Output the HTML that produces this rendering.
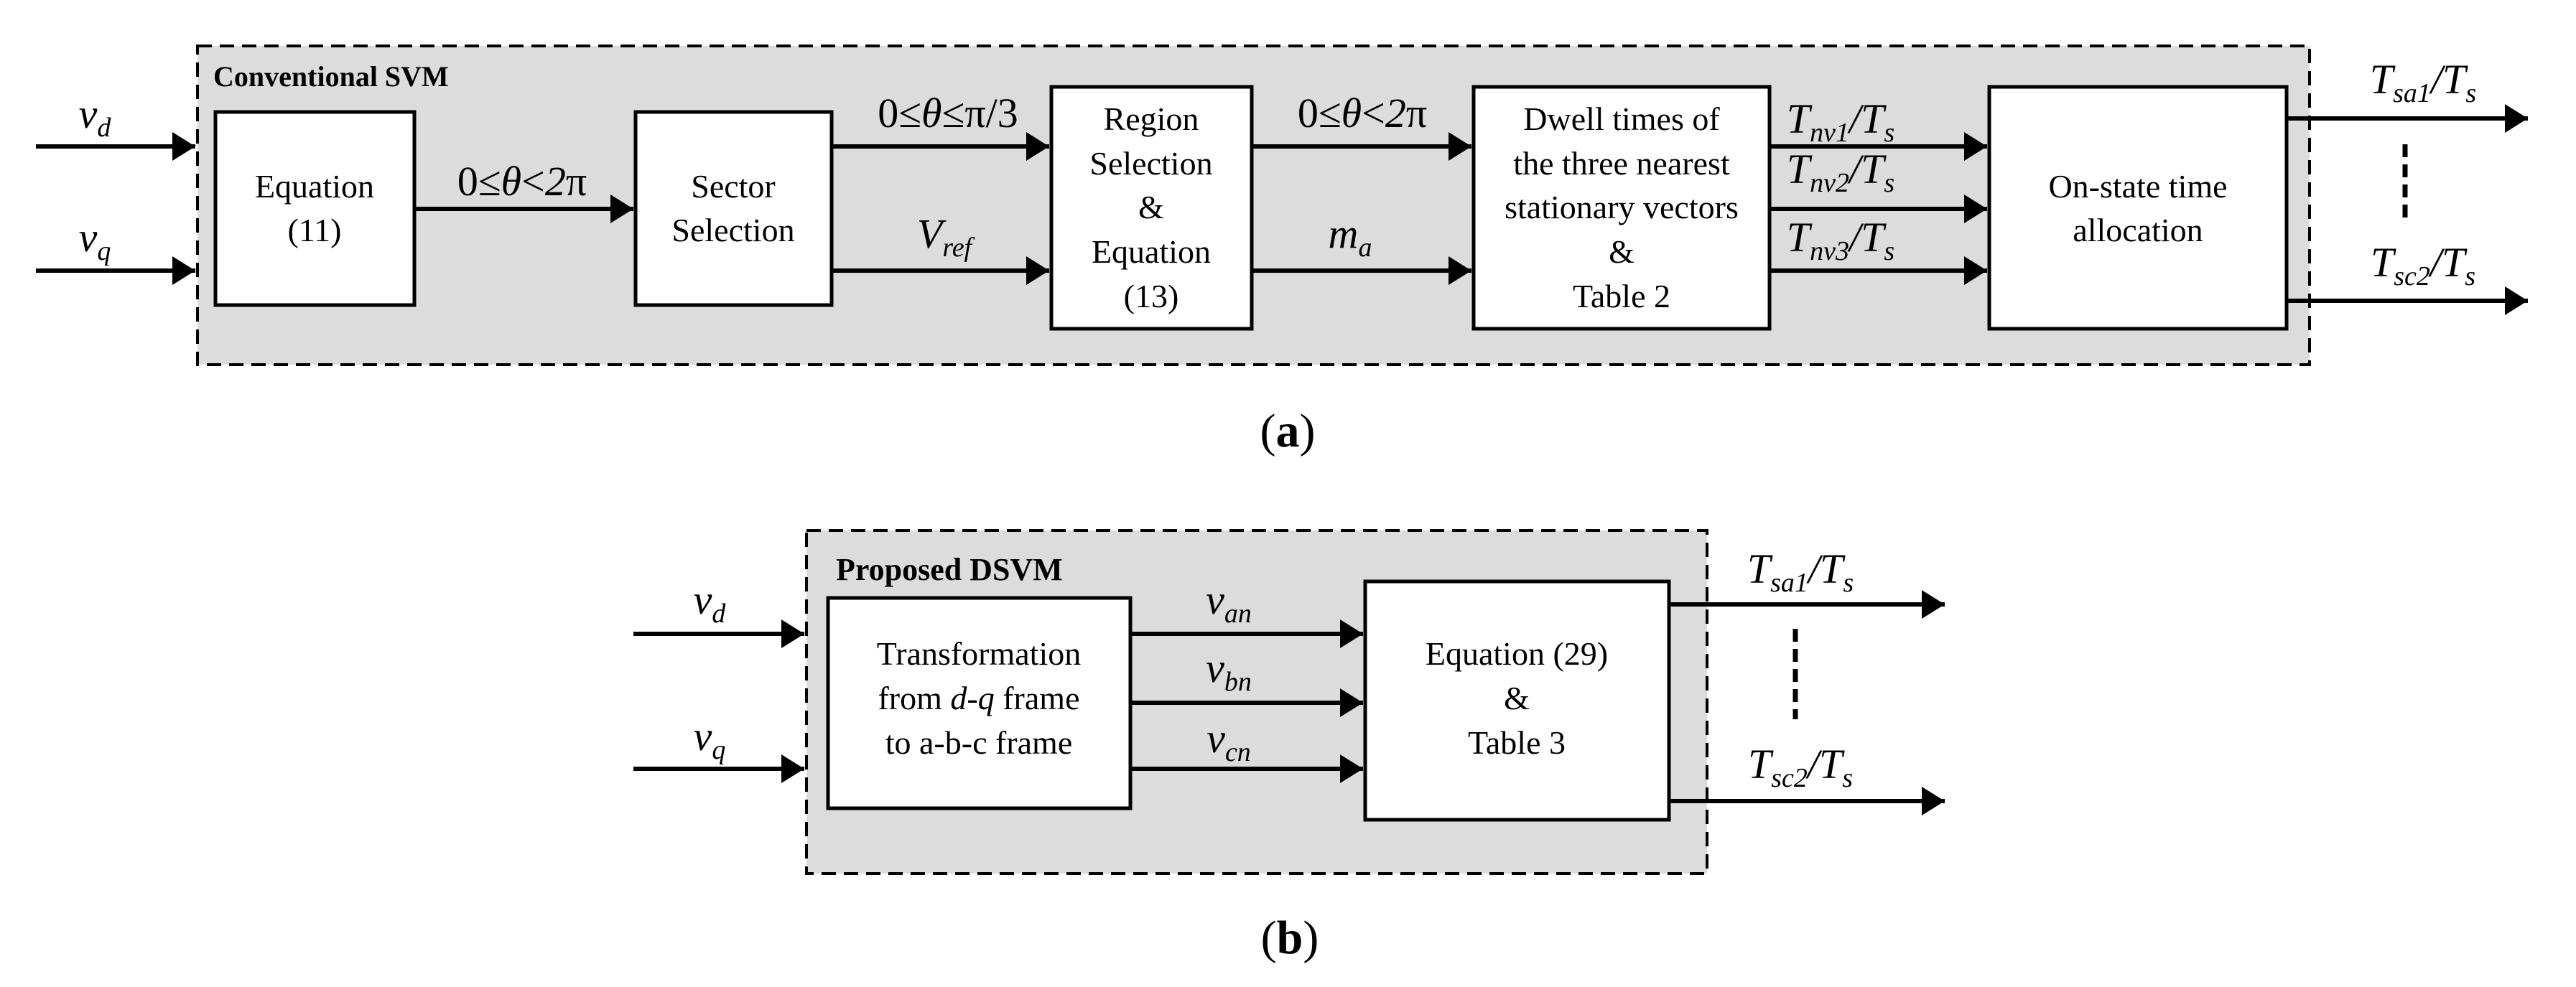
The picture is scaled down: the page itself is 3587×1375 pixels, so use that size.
<!DOCTYPE html>
<html><head><meta charset="utf-8"><style>
html,body{margin:0;padding:0;background:#fff;}
svg{display:block;font-family:"Liberation Serif","DejaVu Serif",serif;}
svg text{font-family:"Liberation Serif","DejaVu Serif",serif;fill:#000;}
.b{font-size:46px;text-anchor:middle;}
.m{font-size:58px;font-style:italic;text-anchor:middle;}
.s{font-size:38px;}
</style></head><body>
<svg width="3587" height="1375" viewBox="0 0 3587 1375" xmlns="http://www.w3.org/2000/svg" font-family="Liberation Serif, serif">
<defs>
<marker id="ah" markerWidth="34" markerHeight="40" refX="32" refY="20" markerUnits="userSpaceOnUse" orient="auto">
<path d="M0,0 L32,20 L0,40 Z" fill="#000"/></marker>
</defs>
<g stroke="#000" stroke-width="4" stroke-dasharray="20,11">
<rect x="275" y="64" width="2941" height="444" fill="#dcdcdc"/>
<rect x="1123" y="739" width="1254" height="478" fill="#dcdcdc"/>
</g>
<g stroke="#000" stroke-width="5" fill="#fff">
<rect x="300" y="156" width="277" height="269"/>
<rect x="885" y="156" width="273" height="269"/>
<rect x="1464" y="121" width="279" height="337"/>
<rect x="2052" y="121" width="412" height="337"/>
<rect x="2770" y="121" width="414" height="337"/>
<rect x="1153" y="833" width="421" height="293"/>
<rect x="1901" y="810" width="423" height="332"/>
</g>
<g stroke="#000" stroke-width="6" marker-end="url(#ah)">
<line x1="50" y1="204" x2="272" y2="204"/>
<line x1="50" y1="377" x2="272" y2="377"/>
<line x1="577" y1="291" x2="882" y2="291"/>
<line x1="1158" y1="204" x2="1461" y2="204"/>
<line x1="1158" y1="377" x2="1461" y2="377"/>
<line x1="1743" y1="204" x2="2049" y2="204"/>
<line x1="1743" y1="377" x2="2049" y2="377"/>
<line x1="2464" y1="204" x2="2767" y2="204"/>
<line x1="2464" y1="291" x2="2767" y2="291"/>
<line x1="2464" y1="377" x2="2767" y2="377"/>
<line x1="3184" y1="165" x2="3520" y2="165"/>
<line x1="3184" y1="419" x2="3520" y2="419"/>
<line x1="882" y1="883" x2="1120" y2="883"/>
<line x1="882" y1="1071" x2="1120" y2="1071"/>
<line x1="1574" y1="883" x2="1898" y2="883"/>
<line x1="1574" y1="979" x2="1898" y2="979"/>
<line x1="1574" y1="1071" x2="1898" y2="1071"/>
<line x1="2324" y1="842" x2="2708" y2="842"/>
<line x1="2324" y1="1116" x2="2708" y2="1116"/>
</g>
<g stroke="#000" stroke-width="7" stroke-dasharray="18,10">
<line x1="3349" y1="201" x2="3349" y2="311"/>
<line x1="2500" y1="876" x2="2500" y2="1002"/>
</g>
<text x="297" y="120" font-family="Liberation Serif, serif" style="font-size:40px;font-weight:bold">Conventional SVM</text>
<text x="1164" y="808" font-family="Liberation Serif, serif" style="font-size:44px;font-weight:bold">Proposed DSVM</text>
<g font-family="Liberation Serif, serif">
<text class="b" x="438" y="275">Equation</text>
<text class="b" x="438" y="336">(11)</text>
<text class="b" x="1021" y="275">Sector</text>
<text class="b" x="1021" y="336">Selection</text>
<text class="b" x="1603" y="181">Region</text>
<text class="b" x="1603" y="243">Selection</text>
<text class="b" x="1603" y="304">&amp;</text>
<text class="b" x="1603" y="366">Equation</text>
<text class="b" x="1603" y="428">(13)</text>
<text class="b" x="2258" y="181">Dwell times of</text>
<text class="b" x="2258" y="243">the three nearest</text>
<text class="b" x="2258" y="304">stationary vectors</text>
<text class="b" x="2258" y="366">&amp;</text>
<text class="b" x="2258" y="428">Table 2</text>
<text class="b" x="2977" y="275">On-state time</text>
<text class="b" x="2977" y="336">allocation</text>
<text class="b" x="1363" y="926">Transformation</text>
<text class="b" x="1363" y="988">from <tspan font-style="italic">d</tspan>-<tspan font-style="italic">q</tspan> frame</text>
<text class="b" x="1363" y="1050">to a-b-c frame</text>
<text class="b" x="2112" y="926">Equation (29)</text>
<text class="b" x="2112" y="988">&amp;</text>
<text class="b" x="2112" y="1050">Table 3</text>
<text class="m" x="132" y="178">v<tspan class="s" dy="12">d</tspan></text>
<text class="m" x="132" y="350">v<tspan class="s" dy="12">q</tspan></text>
<text class="m" x="727" y="272" style="font-style:normal">0≤<tspan font-style="italic">θ</tspan>&lt;<tspan font-style="italic">2</tspan>π</text>
<text class="m" x="1320" y="177" style="font-style:normal">0≤<tspan font-style="italic">θ</tspan>≤π/3</text>
<text class="m" x="1315" y="345">V<tspan class="s" dy="12">ref</tspan></text>
<text class="m" x="1897" y="177" style="font-style:normal">0≤<tspan font-style="italic">θ</tspan>&lt;<tspan font-style="italic">2</tspan>π</text>
<text class="m" x="1880" y="345">m<tspan class="s" dy="12">a</tspan></text>
<text class="m" x="2563" y="185">T<tspan class="s" dy="12">nv1</tspan><tspan dy="-12">/T</tspan><tspan class="s" dy="12">s</tspan></text>
<text class="m" x="2563" y="255">T<tspan class="s" dy="12">nv2</tspan><tspan dy="-12">/T</tspan><tspan class="s" dy="12">s</tspan></text>
<text class="m" x="2563" y="350">T<tspan class="s" dy="12">nv3</tspan><tspan dy="-12">/T</tspan><tspan class="s" dy="12">s</tspan></text>
<text class="m" x="3374" y="130">T<tspan class="s" dy="12">sa1</tspan><tspan dy="-12">/T</tspan><tspan class="s" dy="12">s</tspan></text>
<text class="m" x="3374" y="385">T<tspan class="s" dy="12">sc2</tspan><tspan dy="-12">/T</tspan><tspan class="s" dy="12">s</tspan></text>
<text class="m" x="988" y="855">v<tspan class="s" dy="12">d</tspan></text>
<text class="m" x="988" y="1045">v<tspan class="s" dy="12">q</tspan></text>
<text class="m" x="1711" y="855">v<tspan class="s" dy="12">an</tspan></text>
<text class="m" x="1711" y="950">v<tspan class="s" dy="12">bn</tspan></text>
<text class="m" x="1711" y="1048">v<tspan class="s" dy="12">cn</tspan></text>
<text class="m" x="2507" y="812">T<tspan class="s" dy="12">sa1</tspan><tspan dy="-12">/T</tspan><tspan class="s" dy="12">s</tspan></text>
<text class="m" x="2507" y="1084">T<tspan class="s" dy="12">sc2</tspan><tspan dy="-12">/T</tspan><tspan class="s" dy="12">s</tspan></text>
<text x="1793" y="622" style="font-size:66px;text-anchor:middle">(<tspan font-weight="bold">a</tspan>)</text>
<text x="1796" y="1328" style="font-size:66px;text-anchor:middle">(<tspan font-weight="bold">b</tspan>)</text>
</g>
</svg>
</body></html>
